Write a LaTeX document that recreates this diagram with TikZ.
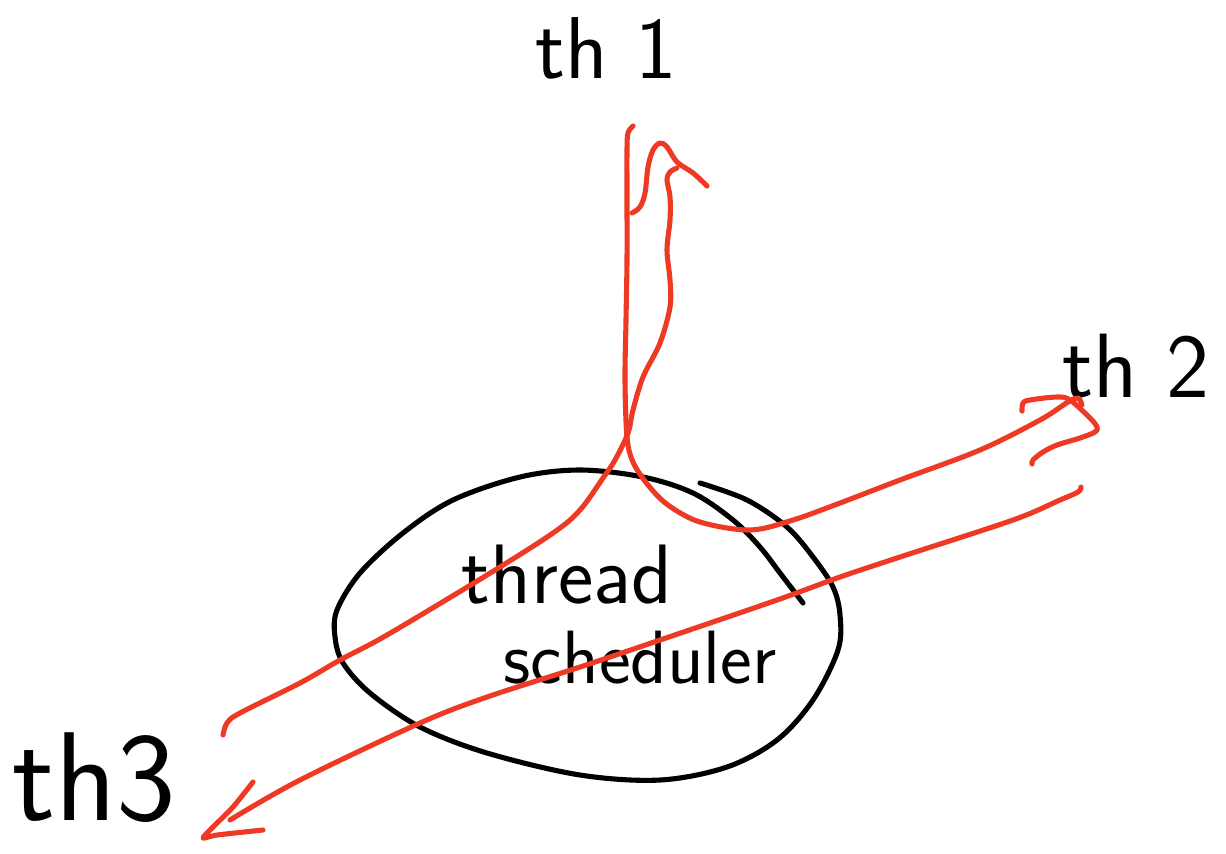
\documentclass[tikz,border=0pt]{standalone}
\usepackage{tikz}
\definecolor{pen}{RGB}{238,58,36}
\tikzset{
  ink/.style={line width=2.9pt, line cap=round, line join=round, black},
  redink/.style={line width=2.9pt, line cap=round, line join=round, pen},
  lbl/.style={inner sep=0pt, font=\sffamily},
}
\begin{document}
\begin{tikzpicture}[x=0.02cm,y=-0.02cm]
\useasboundingbox (0,0) rectangle (1226,853);

% labels
\node[lbl, anchor=base, font=\sffamily\fontsize{50}{54}\selectfont] (th1) at (606,78) {th 1};
\node[lbl, anchor=base west, font=\sffamily\fontsize{52}{56}\selectfont] (th2) at (1062,397) {th 2};
\node[lbl, anchor=base west, font=\sffamily\fontsize{72}{76}\selectfont] (th3) at (12,820) {th3};
\node[lbl, anchor=base, font=\sffamily\fontsize{48}{52}\selectfont] (thr) at (567,603) {thread};
\node[lbl, anchor=base, font=\sffamily\fontsize{43}{47}\selectfont] (sch) at (640,683) {scheduler};

% scheduler outline (one overlapping stroke)
\draw[ink] plot[smooth, tension=0.55] coordinates {
 (700,483) (747,500) (787,527) (813,557) (833,587) (840,615) (838,650)
 (813,700) (777,740) (727,767) (660,780) (580,775) (487,753) (420,727)
 (370,693) (343,663) (335,637) (337,610) (360,573) (403,533) (453,500)
 (520,477) (580,470) (643,477) (693,493) (733,520) (760,547) (780,573) (803,603)};

% named ends
\coordinate (topL) at (633,126);
\coordinate (topR) at (677,168);
\coordinate (endTwoA) at (1082,405);
\coordinate (endTwoB) at (1081,487);
\coordinate (endThreeA) at (223,735);
\coordinate (endThreeB) at (230,820);

% th1 left shaft -> th2
\draw[redink] plot[smooth, tension=0.55] coordinates {
 (topL) (628,133) (627,150) (627,200) (627,260) (626,320) (625,380) (627,437)
 (633,462) (648,485) (668,505) (700,522) (750,530) (793,520) (840,503)
 (900,480) (980,450) (1040,420) (1068,402) (1078,398) (endTwoA)};

% th3 upper -> th1 right shaft
\draw[redink] plot[smooth, tension=0.55] coordinates {
 (endThreeA) (227,723) (240,713) (300,683) (340,660) (387,635) (487,575)
 (553,533) (580,510) (603,478) (615,460) (628,433) (633,410) (643,377)
 (660,343) (670,307) (670,280) (667,250) (670,220) (670,197) (667,180)
 (670,172) (topR)};

% th2 lower -> th3
\draw[redink] plot[smooth, tension=0.55] coordinates {
 (endThreeB) (300,780) (420,723) (487,697) (580,667) (660,640) (777,600)
 (840,577) (900,557) (1013,520) (1060,500) (1078,492) (endTwoB)};

% arrowhead th1
\draw[redink] plot[smooth, tension=0.55] coordinates {
 (632,213) (640,207) (645,193) (648,167) (653,150) (660,143) (667,147)
 (677,162) (693,173) (707,186)};

% arrowhead th2
\draw[redink] plot[smooth, tension=0.55] coordinates {
 (1022,411) (1023,403) (1030,400) (1057,397) (1070,400) (1090,418)
 (1097,427) (1095,432) (1080,438) (1057,445) (1043,452) (1033,460) (1032,464)};

% arrowhead th3
\draw[redink] plot[smooth, tension=0.4] coordinates {
 (253,782) (233,807) (213,827) (203,838) (217,835) (263,830)};
\end{tikzpicture}
\end{document}
